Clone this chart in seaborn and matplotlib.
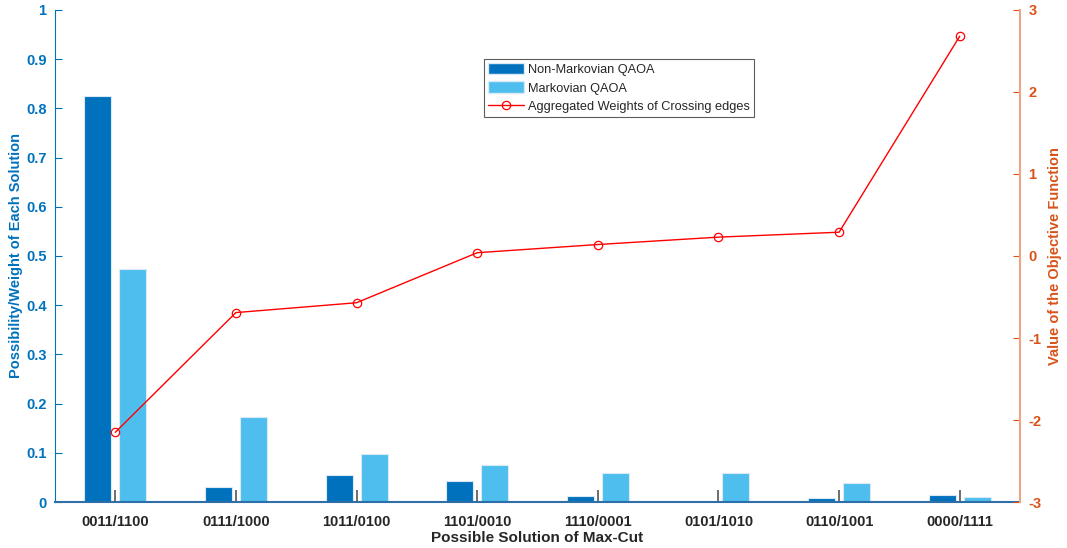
import numpy as np
import pandas as pd
import matplotlib
matplotlib.use("Agg")
import matplotlib.pyplot as plt
import seaborn as sns
from matplotlib.lines import Line2D
from matplotlib.patches import Patch

categories = ["0011/1100", "0111/1000", "1011/0100", "1101/0010",
              "1110/0001", "0101/1010", "0110/1001", "0000/1111"]
non_markovian = [0.825, 0.030, 0.055, 0.043, 0.012, 0.001, 0.008, 0.014]
markovian = [0.474, 0.173, 0.098, 0.075, 0.059, 0.059, 0.039, 0.010]
objective = [-2.15, -0.69, -0.57, 0.04, 0.14, 0.23, 0.29, 2.68]
series_names = ["Non-Markovian QAOA", "Markovian QAOA"]
line_name = "Aggregated Weights of Crossing edges"

BLUE = "#0072BD"
LIGHT = "#4DBEEE"
ORANGE = "#D95319"
GRAY = "#262626"

sns.set_style("white")
plt.rcParams["font.family"] = ["Liberation Sans", "DejaVu Sans"]
plt.rcParams["axes.unicode_minus"] = False

df = pd.DataFrame({
    "solution": categories * 2,
    "value": non_markovian + markovian,
    "series": [series_names[0]] * len(categories) + [series_names[1]] * len(categories),
})

fig = plt.figure(figsize=(10.67, 5.48), dpi=100)
ax = fig.add_axes([0.0515, 0.0839, 0.9045, 0.8979])

sns.barplot(data=df, x="solution", y="value", hue="series",
            palette=[BLUE, LIGHT], saturation=1, width=0.58, gap=0.23,
            errorbar=None, edgecolor="#dbe9f5", linewidth=0.8, ax=ax,
            legend=False, zorder=2)

ax.set_xlim(-0.5, len(categories) - 0.5)
ax.set_ylim(0, 1)
ax.set_yticks(np.arange(0, 1.01, 0.1))
ax.set_yticklabels(["0"] + [f"{v:.1f}" for v in np.arange(0.1, 0.95, 0.1)] + ["1"])
ax.tick_params(axis="y", left=True, direction="in", length=5, color=BLUE,
               labelcolor=BLUE, labelsize=10.5, pad=6)
ax.tick_params(axis="x", bottom=True, direction="in", length=9, color="#555555",
               labelcolor=GRAY, labelsize=10.5, pad=9, width=1.2)
for lab in ax.get_xticklabels() + ax.get_yticklabels():
    lab.set_fontweight("bold")
ax.set_xlabel("Possible Solution of Max-Cut", fontsize=11, fontweight="bold",
              color=GRAY, labelpad=2)
ax.set_ylabel("Possibility/Weight of Each Solution", fontsize=10.5, fontweight="bold",
              color=BLUE)
ax.yaxis.set_label_coords(-0.033, 0.5)
ax.spines["top"].set_visible(False)
ax.spines["right"].set_visible(False)
ax.spines["left"].set_color(BLUE)
ax.spines["bottom"].set_color("#2f6fa8")
ax.spines["bottom"].set_linewidth(1.5)

ax2 = ax.twinx()
sns.lineplot(x=np.arange(len(categories)), y=objective, sort=False, ax=ax2,
             color="#FF0000", linewidth=1.0, marker="o", markersize=6,
             markerfacecolor="none", markeredgecolor="#FF0000", markeredgewidth=0.9,
             zorder=3)
ax2.set_ylim(-3, 3)
ax2.set_yticks(range(-3, 4))
ax2.tick_params(axis="y", right=True, direction="in", length=5, color=ORANGE,
                labelcolor=ORANGE, labelsize=10.5, pad=6)
for lab in ax2.get_yticklabels():
    lab.set_fontweight("bold")
ax2.set_ylabel("Value of the Objective Function", fontsize=10.5, fontweight="bold",
               color=ORANGE, rotation=90)
ax2.yaxis.set_label_coords(1.029, 0.5)
for side in ["top", "left", "bottom"]:
    ax2.spines[side].set_visible(False)
ax2.spines["right"].set_color("#eda483")
ax2.spines["right"].set_linewidth(1.5)

handles = [Patch(facecolor=BLUE, edgecolor="#dbe9f5"),
           Patch(facecolor=LIGHT, edgecolor="#dbe9f5"),
           Line2D([], [], color="#FF0000", linewidth=1.0, marker="o", markersize=6,
                  markerfacecolor="none", markeredgewidth=0.9)]
leg = ax2.legend(handles, series_names + [line_name], loc="upper left",
                 bbox_to_anchor=(0.445, 0.900), fontsize=9.2, frameon=True,
                 fancybox=False, edgecolor="#333333", borderpad=0.3,
                 labelspacing=0.42, handlelength=2.8, handleheight=1.0,
                 handletextpad=0.3, borderaxespad=0)
leg.get_frame().set_linewidth(0.8)

fig.savefig("out.png", dpi=100)
